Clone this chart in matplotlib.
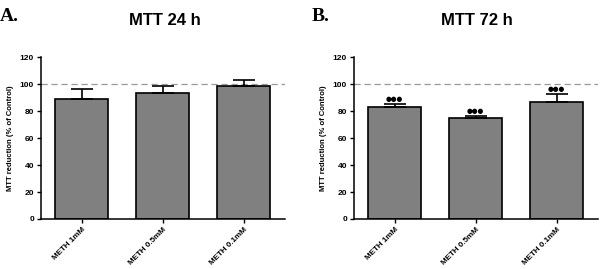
import matplotlib
matplotlib.use('Agg')
import matplotlib.pyplot as plt
import numpy as np

# ---- Data ----
categories = ['METH 1mM', 'METH 0.5mM', 'METH 0.1mM']
mtt24_mean = [89, 93.6, 98.8]
mtt24_err = [7.3, 4.9, 3.9]
mtt72_mean = [83.2, 75.0, 86.4]
mtt72_err = [2.2, 1.5, 6.0]
mtt72_sig = ['●●●', '●●●', '●●●']
yticks = [0, 20, 40, 60, 80, 100, 120]

plt.rcParams['font.family'] = ['Liberation Sans', 'DejaVu Sans']

fig = plt.figure(figsize=(6.06, 2.69), dpi=100)
ax_a = fig.add_axes([0.0677, 0.1859, 0.4026, 0.602])
ax_b = fig.add_axes([0.5842, 0.1859, 0.4026, 0.602])


def draw_panel(ax, means, errs, sig=None):
    x = np.arange(len(categories))
    ax.bar(x, means, 0.65, color='#808080', edgecolor='black', linewidth=1.2, zorder=2)
    ax.errorbar(x, means, yerr=[np.zeros(len(errs)), errs], fmt='none',
                ecolor='black', elinewidth=1.2, capsize=8, capthick=1.2, zorder=3)
    ax.axhline(100, color='#999999', linestyle=(0, (5, 3)), linewidth=0.9, zorder=1)
    if sig:
        for xi, m, e, s in zip(x, means, errs, sig):
            ax.text(xi, m + e + 1.5, s, ha='center', va='bottom', fontsize=4.8,
                    family=['DejaVu Sans'])
    ax.set_xlim(-0.5, 2.51)
    ax.set_ylim(0, 120)
    ax.set_yticks(yticks)
    ax.set_yticklabels([str(t) for t in yticks], fontsize=6, fontweight='bold')
    ax.set_xticks(x)
    ax.set_xticklabels(categories, fontsize=5.8, fontweight='bold', rotation=45,
                       ha='right', rotation_mode='anchor')
    ax.tick_params(axis='both', direction='out', length=3, width=1, pad=2)
    for s in ['top', 'right']:
        ax.spines[s].set_visible(False)
    for s in ['left', 'bottom']:
        ax.spines[s].set_linewidth(1.1)
    ax.set_ylabel('MTT reduction (% of Control)', fontsize=5.5, fontweight='bold', labelpad=4)


draw_panel(ax_a, mtt24_mean, mtt24_err)
draw_panel(ax_b, mtt72_mean, mtt72_err, mtt72_sig)

fig.text(0.0, 0.94, 'A.', fontsize=14, fontweight='bold', family='Liberation Serif', va='center')
fig.text(0.515, 0.94, 'B.', fontsize=14, fontweight='bold', family='Liberation Serif', va='center')
fig.text(0.272, 0.922, 'MTT 24 h', fontsize=12, fontweight='bold', ha='center', va='center')
fig.text(0.787, 0.922, 'MTT 72 h', fontsize=12, fontweight='bold', ha='center', va='center')

fig.savefig('out.png', dpi=100)
